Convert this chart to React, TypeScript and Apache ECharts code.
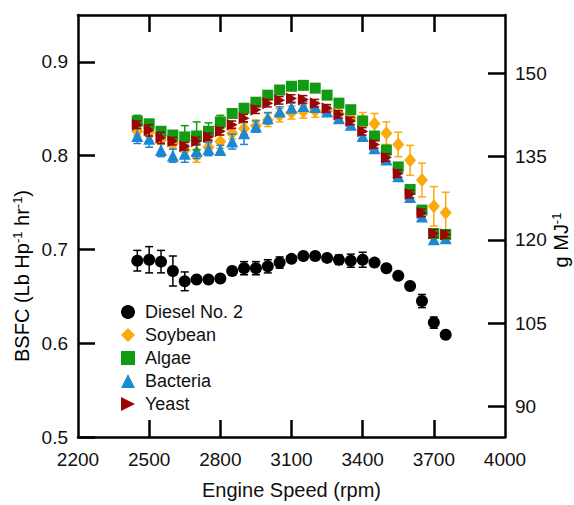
import React, { useEffect, useRef } from "react";
import * as echarts from "echarts";

const rpm = [2450, 2500, 2550, 2600, 2650, 2700, 2750, 2800, 2850, 2900, 2950, 3000, 3050, 3100, 3150, 3200, 3250, 3300, 3350, 3400, 3450, 3500, 3550, 3600, 3650, 3700, 3750];

const diesel = [0.688, 0.689, 0.687, 0.677, 0.666, 0.668, 0.668, 0.669, 0.677, 0.680, 0.680, 0.682, 0.686, 0.690, 0.693, 0.693, 0.691, 0.689, 0.688, 0.689, 0.686, 0.680, 0.672, 0.661, 0.645, 0.622, 0.609];
const dieselErr = [0.011, 0.014, 0.012, 0.016, 0.010, 0.003, 0.003, 0.003, 0.004, 0.007, 0.007, 0.007, 0.006, 0.003, 0.003, 0.003, 0.003, 0.005, 0.007, 0.008, 0.004, 0.002, 0.002, 0.002, 0.007, 0.006, 0.002];

const soybean = [0.826, 0.825, 0.817, 0.813, 0.806, 0.800, 0.809, 0.815, 0.824, 0.829, 0.832, 0.838, 0.843, 0.846, 0.847, 0.848, 0.848, 0.845, 0.840, 0.838, 0.834, 0.824, 0.812, 0.795, 0.774, 0.746, 0.739];
const soybeanErr = [0.005, 0.005, 0.005, 0.005, 0.006, 0.007, 0.007, 0.007, 0.006, 0.006, 0.006, 0.007, 0.007, 0.007, 0.007, 0.007, 0.006, 0.006, 0.006, 0.008, 0.011, 0.012, 0.013, 0.016, 0.018, 0.021, 0.022];

const algae = [0.837, 0.834, 0.826, 0.822, 0.820, 0.821, 0.826, 0.836, 0.845, 0.8505, 0.857, 0.8645, 0.870, 0.874, 0.875, 0.872, 0.8645, 0.856, 0.849, 0.837, 0.821, 0.806, 0.788, 0.764, 0.742, 0.717, 0.716];
const algaeErr = [0.006, 0.004, 0.004, 0.004, 0.012, 0.015, 0.009, 0.007, 0.004, 0.005, 0.004, 0.004, 0.004, 0.003, 0.003, 0.003, 0.003, 0.003, 0.003, 0.004, 0.004, 0.004, 0.004, 0.004, 0.004, 0.004, 0.004];

const bacteria = [0.821, 0.818, 0.806, 0.800, 0.802, 0.805, 0.807, 0.806, 0.815, 0.824, 0.831, 0.840, 0.847, 0.851, 0.853, 0.852, 0.847, 0.840, 0.833, 0.821, 0.808, 0.796, 0.778, 0.756, 0.735, 0.711, 0.712];
const bacteriaErr = [0.008, 0.009, 0.007, 0.007, 0.009, 0.008, 0.007, 0.005, 0.008, 0.012, 0.006, 0.006, 0.005, 0.005, 0.005, 0.005, 0.005, 0.005, 0.005, 0.004, 0.004, 0.004, 0.004, 0.004, 0.004, 0.004, 0.004];

const yeast = [0.833, 0.827, 0.819, 0.8155, 0.810, 0.8155, 0.820, 0.826, 0.833, 0.840, 0.849, 0.856, 0.859, 0.861, 0.860, 0.856, 0.8505, 0.844, 0.837, 0.826, 0.812, 0.798, 0.781, 0.759, 0.739, 0.717, 0.716];
const yeastErr = [0.004, 0.006, 0.006, 0.004, 0.004, 0.004, 0.004, 0.004, 0.004, 0.004, 0.004, 0.004, 0.004, 0.004, 0.004, 0.004, 0.004, 0.004, 0.004, 0.004, 0.004, 0.004, 0.004, 0.004, 0.004, 0.004, 0.004];

const xTicks = [2200, 2500, 2800, 3100, 3400, 3700, 4000];
const xInnerTicks = [2500, 2800, 3100, 3400, 3700];
const leftTicks = [0.5, 0.6, 0.7, 0.8, 0.9];
const rightTicks = [90, 105, 120, 135, 150];
const G_PER_MJ = 168.97; // 1 lb/(hp·hr) in g/MJ

const FONT = "Liberation Sans, Arial, Helvetica, sans-serif";
const TRI_RIGHT = "path://M0,0L10,5L0,10Z";

export default function App() {
  const ref = useRef<HTMLDivElement>(null);
  useEffect(() => {
    if (!ref.current) return;
    const chart = echarts.init(ref.current, undefined, { renderer: "svg" });

    const seriesDefs = [
      { name: "Diesel No. 2", vals: diesel, err: dieselErr, color: "#000000", symbol: "circle", size: 12, z: 6 },
      { name: "Soybean", vals: soybean, err: soybeanErr, color: "#FCA90C", symbol: "diamond", size: [12, 14], z: 2 },
      { name: "Algae", vals: algae, err: algaeErr, color: "#139A13", symbol: "rect", size: 11, z: 4 },
      { name: "Bacteria", vals: bacteria, err: bacteriaErr, color: "#1C88D4", symbol: "triangle", size: 12, z: 3 },
      { name: "Yeast", vals: yeast, err: yeastErr, color: "#9C0505", symbol: TRI_RIGHT, size: [11, 12], z: 5 },
    ];

    const series: any[] = [];
    seriesDefs.forEach((s) => {
      const color = s.color;
      series.push({
        type: "custom",
        xAxisIndex: 0,
        yAxisIndex: 0,
        z: s.z,
        silent: true,
        encode: { x: 0, y: [1, 2] },
        data: rpm.map((x, i) => [x, s.vals[i] - s.err[i], s.vals[i] + s.err[i]]),
        renderItem: (params: any, api: any) => {
          const x = api.value(0);
          const p1 = api.coord([x, api.value(2)]);
          const p2 = api.coord([x, api.value(1)]);
          const w = 4;
          const st = { stroke: color, lineWidth: 1.5 };
          return {
            type: "group",
            children: [
              { type: "line", shape: { x1: p1[0], y1: p1[1], x2: p2[0], y2: p2[1] }, style: st },
              { type: "line", shape: { x1: p1[0] - w, y1: p1[1], x2: p1[0] + w, y2: p1[1] }, style: st },
              { type: "line", shape: { x1: p2[0] - w, y1: p2[1], x2: p2[0] + w, y2: p2[1] }, style: st },
            ],
          };
        },
      });
      series.push({
        type: "scatter",
        name: s.name,
        xAxisIndex: 0,
        yAxisIndex: 0,
        z: s.z,
        symbol: s.symbol,
        symbolSize: s.size,
        itemStyle: { color, opacity: 1 },
        data: rpm.map((x, i) => [x, s.vals[i]]),
      });
    });

    const axisLineStyle = { color: "#000", width: 2.5 };
    const tickStyle = { color: "#000", width: 2.5 };

    chart.setOption({
      animation: false,
      textStyle: { fontFamily: FONT },
      grid: { left: 78, right: 69, top: 15, bottom: 62, containLabel: false },
      legend: {
        orient: "vertical",
        left: 116,
        top: 298,
        itemWidth: 14,
        itemHeight: 14,
        itemGap: 5,
        formatter: (name: string) => "{g| }" + name,
        textStyle: {
          fontFamily: FONT,
          fontSize: 18,
          color: "#111",
          rich: { g: { width: 5, fontSize: 18 } },
        },
        data: [
          { name: "Diesel No. 2", icon: "circle" },
          { name: "Soybean", icon: "diamond" },
          { name: "Algae", icon: "rect" },
          { name: "Bacteria", icon: "triangle" },
          { name: "Yeast", icon: TRI_RIGHT },
        ],
      },
      xAxis: [
        {
          type: "value",
          min: 2200,
          max: 4000,
          position: "bottom",
          name: "Engine Speed (rpm)",
          nameLocation: "middle",
          nameGap: 43,
          nameTextStyle: { fontFamily: FONT, fontSize: 20, color: "#111" },
          axisLine: { show: true, onZero: false, lineStyle: axisLineStyle },
          axisTick: { show: true, inside: true, length: 17, lineStyle: tickStyle, customValues: xInnerTicks },
          axisLabel: {
            show: true,
            margin: 13,
            fontFamily: FONT,
            fontSize: 19,
            color: "#111",
            customValues: xTicks,
            formatter: (v: number) => String(v),
          },
          splitLine: { show: false },
        },
        {
          type: "value",
          min: 2200,
          max: 4000,
          position: "top",
          axisLine: { show: true, onZero: false, lineStyle: axisLineStyle },
          axisTick: { show: true, inside: true, length: 17, lineStyle: tickStyle, customValues: xInnerTicks },
          axisLabel: { show: false },
          splitLine: { show: false },
        },
      ],
      yAxis: [
        {
          type: "value",
          min: 0.5,
          max: 0.95,
          position: "left",
          axisLine: { show: true, onZero: false, lineStyle: axisLineStyle },
          axisTick: { show: true, inside: true, length: 17, lineStyle: tickStyle, customValues: leftTicks },
          axisLabel: {
            show: true,
            margin: 10,
            fontFamily: FONT,
            fontSize: 19,
            color: "#111",
            customValues: leftTicks,
            formatter: (v: number) => v.toFixed(1),
          },
          splitLine: { show: false },
        },
        {
          type: "value",
          min: 0.5 * G_PER_MJ,
          max: 0.95 * G_PER_MJ,
          position: "right",
          axisLine: { show: true, onZero: false, lineStyle: axisLineStyle },
          axisTick: { show: true, inside: true, length: 17, lineStyle: tickStyle, customValues: rightTicks },
          axisLabel: {
            show: true,
            margin: 10,
            fontFamily: FONT,
            fontSize: 19,
            color: "#111",
            customValues: rightTicks,
            formatter: (v: number) => String(Math.round(v)),
          },
          splitLine: { show: false },
        },
      ],
      graphic: [
        {
          type: "text",
          x: 22,
          y: 276,
          rotation: Math.PI / 2,
          style: {
            text: "{a|BSFC (Lb Hp}{s|-1}{a| hr}{s|-1}{a|)}",
            align: "center",
            verticalAlign: "middle",
            rich: {
              a: { fontFamily: FONT, fontSize: 20, color: "#111" },
              s: { fontFamily: FONT, fontSize: 13, color: "#111", padding: [0, 0, 10, 0] },
            },
          },
        },
        {
          type: "text",
          x: 561,
          y: 240,
          rotation: Math.PI / 2,
          style: {
            text: "{a|g MJ}{s|-1}",
            align: "center",
            verticalAlign: "middle",
            rich: {
              a: { fontFamily: FONT, fontSize: 20, color: "#111" },
              s: { fontFamily: FONT, fontSize: 13, color: "#111", padding: [0, 0, 10, 0] },
            },
          },
        },
      ],
      series,
    });

    return () => chart.dispose();
  }, []);

  return <div ref={ref} style={{ position: "fixed", left: 0, top: 0, width: 574, height: 505, background: "#fff" }} />;
}
